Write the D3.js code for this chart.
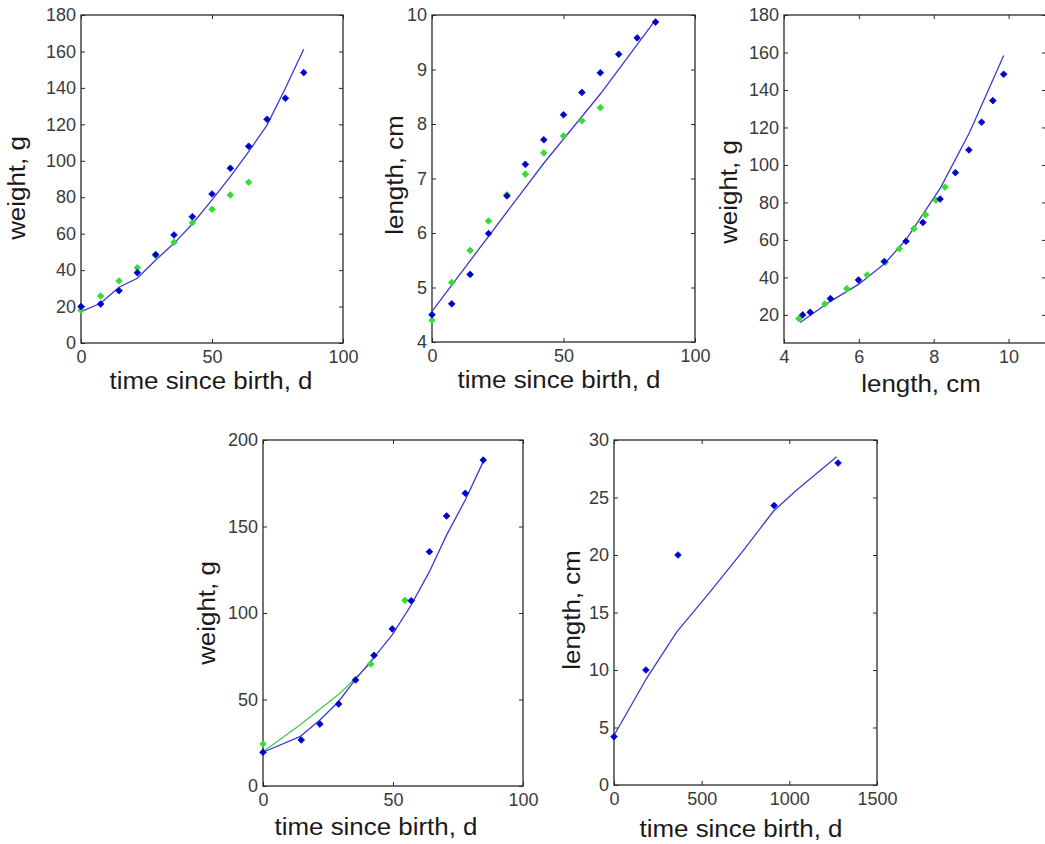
<!DOCTYPE html>
<html>
<head>
<meta charset="utf-8">
<script src="https://cdn.jsdelivr.net/npm/d3@7"></script>
<style>
  html, body { margin: 0; padding: 0; background: #fff; }
  svg { display: block; }
</style>
</head>
<body>
<svg id="chart" width="1045" height="844"></svg>
<script>
// ---------------- DATA ----------------
// Experiment A (panels 1-3): sampling days
const daysA = [0, 7.5, 14.5, 21.5, 28.5, 35.5, 42.5, 50, 57, 64, 71, 78, 85];
const weightBlueA = [20, 21.4, 28.7, 38.6, 48.5, 59.3, 69.3, 81.8, 95.9, 108, 122.8, 134.3, 148.4];
const lengthBlueA = [4.5, 4.70, 5.24, 5.99, 6.68, 7.26, 7.71, 8.17, 8.58, 8.94, 9.28, 9.58, 9.87];
const daysGreenA = [0, 7.5, 14.5, 21.5, 28.5, 35.5, 42.5, 50, 57, 64];
const weightGreenA = [18, 25.8, 34, 41.3, 48, 55.3, 66, 73.4, 81.2, 88.2];
const lengthGreenA = [4.40, 5.09, 5.68, 6.22, 6.70, 7.08, 7.47, 7.78, 8.06, 8.30];

// model fits, experiment A
const fitDays1 = [0, 7.5, 14.5, 21.5, 28.5, 35.5, 42.5, 50, 57, 64, 71, 78, 85];
const fitWeight1 = [17.2, 21.8, 30.6, 35.5, 45.5, 54.7, 65.3, 78.5, 91.3, 105, 119.6, 139.8, 161.2];
const fitDays2 = [0, 21.5, 42.5, 64, 85];
const fitLength2 = [4.56, 5.94, 7.28, 8.55, 9.91];
const fitLength3 = [4.43, 5.23, 6.0, 6.7, 7.27, 8.18, 8.96, 9.87];
const fitWeight3 = [15.9, 27.1, 36.4, 47.6, 60.4, 87.8, 117.4, 158.4];

// Experiment B (panel 4)
const daysBlueB = [0, 14.7, 21.9, 29.1, 35.6, 42.7, 49.7, 57, 64, 70.6, 77.8, 84.7];
const weightBlueB = [19.5, 26.6, 35.8, 47.4, 61.3, 75.5, 90.8, 107.1, 135.4, 156.1, 169.2, 188.4];
const daysGreenB = [0, 41.4, 54.6];
const weightGreenB = [24.3, 70.5, 107.3];
const fitDaysBlueB = [0, 14.2, 21.9, 29, 35.4, 42.4, 49.7, 57, 64, 70.6, 77.8, 84.7];
const fitWeightBlueB = [19.5, 28.5, 38.2, 48.7, 61.3, 73.8, 87.3, 104.6, 123.9, 145, 165.3, 187.5];
const fitDaysGreenB = [0, 14.2, 29.6, 40, 42.4];
const fitWeightGreenB = [19.8, 35.3, 53.6, 69, 73.5];

// Experiment C (panel 5)
const daysC = [0, 182, 365, 913, 1278];
const lengthC = [4.2, 10, 20, 24.3, 28];
const fitDaysC = [0, 186, 357, 548, 738, 909, 1042, 1270];
const fitLengthC = [4.3, 9.28, 13.3, 16.8, 20.4, 23.8, 25.65, 28.55];

// tick values
const ticksT100 = [0, 50, 100];
const ticksW180 = [0, 20, 40, 60, 80, 100, 120, 140, 160, 180];
const ticksL10 = [4, 5, 6, 7, 8, 9, 10];
const ticksLenX = [4, 6, 8, 10];
const ticksW3 = [20, 40, 60, 80, 100, 120, 140, 160, 180];
const ticksW200 = [0, 50, 100, 150, 200];
const ticksT1500 = [0, 500, 1000, 1500];
const ticksL30 = [0, 5, 10, 15, 20, 25, 30];

// ---------------- STYLE ----------------
const BLUE = "#0000cc";
const BLUE_LINE = "#3a3ad0";
const GREEN = "#33dd33";
const GREEN_LINE = "#44cc44";
const AXIS = "#2a2a2a";
const TICKTXT = "#3a3a3a";
const FONT = "'Liberation Sans', Arial, Helvetica, sans-serif";
const LABEL_SIZE = 24;
const STRETCH = 1.08;

const svg = d3.select("#chart");
const fmt = d3.format("d");

function zip(a, b) { return a.map((v, i) => [v, b[i]]); }

function panel(cfg) {
  const g = svg.append("g");
  const x = d3.scaleLinear().domain(cfg.xDomain).range([cfg.left, cfg.right]);
  const y = d3.scaleLinear().domain(cfg.yDomain).range([cfg.bottom, cfg.top]);
  const tl = 4;

  const axB = d3.axisBottom(x).tickValues(cfg.xTicks).tickFormat(fmt).tickSizeInner(-tl).tickSizeOuter(0).tickPadding(7);
  const axT = d3.axisTop(x).tickValues(cfg.xTicks).tickSizeInner(-tl).tickSizeOuter(0).tickFormat("");
  const axL = d3.axisLeft(y).tickValues(cfg.yTicks).tickFormat(fmt).tickSizeInner(-tl).tickSizeOuter(0).tickPadding(5);
  const axR = d3.axisRight(y).tickValues(cfg.yTicks).tickSizeInner(-tl).tickSizeOuter(0).tickFormat("");

  function style(sel) {
    sel.selectAll(".domain").remove();
    sel.selectAll("line").attr("stroke", AXIS).attr("stroke-width", 1);
    sel.selectAll("text").attr("fill", TICKTXT).style("font-family", FONT).style("font-size", "18px");
  }
  g.append("g").attr("transform", `translate(0,${cfg.bottom})`).call(axB).call(style)
    .selectAll("text").attr("dy", "0.71em");
  g.append("g").attr("transform", `translate(0,${cfg.top})`).call(axT).call(style);
  g.append("g").attr("transform", `translate(${cfg.left},0)`).call(axL).call(style);
  g.append("g").attr("transform", `translate(${cfg.right},0)`).call(axR).call(style);

  g.append("rect").attr("x", cfg.left).attr("y", cfg.top)
    .attr("width", cfg.right - cfg.left).attr("height", cfg.bottom - cfg.top)
    .attr("fill", "none").attr("stroke", AXIS).attr("stroke-width", 1.3);

  const line = d3.line().x(d => x(d[0])).y(d => y(d[1]));
  (cfg.lines || []).forEach(l => {
    g.append("path").datum(l.data).attr("d", line)
      .attr("fill", "none").attr("stroke", l.color).attr("stroke-width", 1.3);
  });
  const diamond = d3.symbol().type(d3.symbolSquare).size(22);
  (cfg.points || []).forEach(p => {
    g.append("g").selectAll("path").data(p.data).join("path")
      .attr("d", diamond)
      .attr("transform", d => `translate(${x(d[0])},${y(d[1])}) rotate(45)`)
      .attr("fill", p.color).attr("stroke", p.color).attr("stroke-width", 0.8);
  });

  g.append("text")
    .attr("transform", `translate(${cfg.xLabelX},${cfg.xLabelY}) scale(${STRETCH},1)`)
    .attr("text-anchor", "middle").attr("fill", "#1a1a1a")
    .style("font-family", FONT).style("font-size", LABEL_SIZE + "px").text(cfg.xLabel);
  g.append("text")
    .attr("transform", `translate(${cfg.yLabelX},${cfg.yLabelY}) rotate(-90) scale(${STRETCH},1)`)
    .attr("text-anchor", "middle").attr("fill", "#1a1a1a")
    .style("font-family", FONT).style("font-size", LABEL_SIZE + "px").text(cfg.yLabel);
}

// Panel 1: weight vs time
panel({
  left: 81, right: 343, top: 15, bottom: 343,
  xDomain: [0, 100], yDomain: [0, 180], xTicks: ticksT100, yTicks: ticksW180,
  xLabel: "time since birth, d", yLabel: "weight, g",
  xLabelX: 211, xLabelY: 389, yLabelX: 25, yLabelY: 188,
  lines: [{ data: zip(fitDays1, fitWeight1), color: BLUE_LINE }],
  points: [{ data: zip(daysGreenA, weightGreenA), color: GREEN },
           { data: zip(daysA, weightBlueA), color: BLUE }]
});

// Panel 2: length vs time
panel({
  left: 432, right: 695, top: 15, bottom: 342,
  xDomain: [0, 100], yDomain: [4, 10], xTicks: ticksT100, yTicks: ticksL10,
  xLabel: "time since birth, d", yLabel: "length, cm",
  xLabelX: 559, xLabelY: 388, yLabelX: 403, yLabelY: 175,
  lines: [{ data: zip(fitDays2, fitLength2), color: BLUE_LINE }],
  points: [{ data: zip(daysGreenA, lengthGreenA), color: GREEN },
           { data: zip(daysA, lengthBlueA), color: BLUE }]
});

// Panel 3: weight vs length
panel({
  left: 784, right: 1046, top: 15, bottom: 343,
  xDomain: [4, 11], yDomain: [5, 180], xTicks: ticksLenX, yTicks: ticksW3,
  xLabel: "length, cm", yLabel: "weight, g",
  xLabelX: 921, xLabelY: 392, yLabelX: 737, yLabelY: 192,
  lines: [{ data: zip(fitLength3, fitWeight3), color: BLUE_LINE }],
  points: [{ data: zip(lengthGreenA, weightGreenA), color: GREEN },
           { data: zip(lengthBlueA, weightBlueA), color: BLUE }]
});

// Panel 4: weight vs time (experiment B)
panel({
  left: 263, right: 523, top: 440, bottom: 786,
  xDomain: [0, 100], yDomain: [0, 200], xTicks: ticksT100, yTicks: ticksW200,
  xLabel: "time since birth, d", yLabel: "weight, g",
  xLabelX: 376, xLabelY: 835, yLabelX: 215, yLabelY: 613,
  lines: [{ data: zip(fitDaysGreenB, fitWeightGreenB), color: GREEN_LINE },
          { data: zip(fitDaysBlueB, fitWeightBlueB), color: BLUE_LINE }],
  points: [{ data: zip(daysGreenB, weightGreenB), color: GREEN },
           { data: zip(daysBlueB, weightBlueB), color: BLUE }]
});

// Panel 5: length vs time (experiment C)
panel({
  left: 614, right: 877, top: 440, bottom: 785,
  xDomain: [0, 1500], yDomain: [0, 30], xTicks: ticksT1500, yTicks: ticksL30,
  xLabel: "time since birth, d", yLabel: "length, cm",
  xLabelX: 741, xLabelY: 837, yLabelX: 580, yLabelY: 610,
  lines: [{ data: zip(fitDaysC, fitLengthC), color: BLUE_LINE }],
  points: [{ data: zip(daysC, lengthC), color: BLUE }]
});
</script>
</body>
</html>
